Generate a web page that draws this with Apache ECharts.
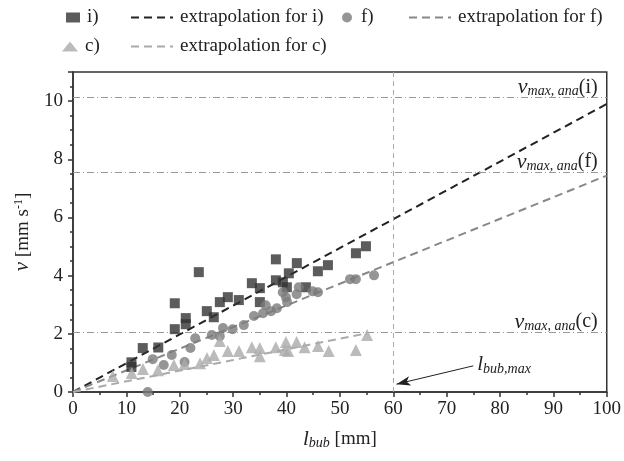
<!DOCTYPE html>
<html>
<head>
<meta charset="utf-8">
<script src="https://cdn.jsdelivr.net/npm/echarts@6/dist/echarts.min.js"></script>
<style>
html, body { margin: 0; padding: 0; background: #fff; }
#chart { width: 624px; height: 461px; }
</style>
</head>
<body>
<div id="chart"></div>
<script>
(function(){

var FONT = '"Liberation Serif", "DejaVu Serif", serif';

// measured points, [l_bub (mm), v (mm/s)]
var seriesI = [
	[10.95, 1.02], [10.95, 0.86], [13.07, 1.51], [15.98, 1.53], [19.07, 2.16],
	[19.07, 3.05], [21.13, 2.54], [21.13, 2.33], [23.57, 4.12], [25.07, 2.78],
	[26.38, 2.57], [27.51, 3.09], [29.01, 3.26], [31.07, 3.16], [33.51, 3.74],
	[35.01, 3.57], [35.01, 3.09], [38.01, 4.56], [38.01, 3.84], [39.32, 3.77],
	[40.07, 3.60], [40.44, 4.08], [41.94, 4.43], [43.63, 3.60], [45.88, 4.15],
	[47.76, 4.36], [53.01, 4.77], [54.88, 5.01]
];
var seriesF = [
	[14.0, 0.0], [14.94, 1.13], [17.0, 0.93], [18.5, 1.27], [20.9, 1.03],
	[22.0, 1.51], [22.9, 1.85], [26.0, 1.96], [27.5, 1.92], [28.1, 2.20],
	[29.9, 2.16], [32.0, 2.30], [33.9, 2.61], [35.6, 2.71], [36.1, 2.98],
	[37.1, 2.78], [38.2, 2.88], [39.3, 3.43], [39.9, 3.26], [40.1, 3.09],
	[41.9, 3.36], [42.3, 3.60], [44.9, 3.46], [45.9, 3.43], [51.9, 3.88],
	[53.0, 3.88], [56.4, 4.01]
];
var seriesC = [
	[7.46, 0.55], [11.0, 0.65], [13.1, 0.79], [15.9, 0.75], [18.9, 0.93],
	[20.9, 0.96], [23.8, 0.99], [25.1, 1.17], [26.4, 1.27], [27.5, 1.75],
	[29.0, 1.41], [31.1, 1.41], [33.5, 1.54], [35.0, 1.51], [35.0, 1.23],
	[38.0, 1.54], [39.7, 1.44], [39.9, 1.72], [40.3, 1.41], [41.9, 1.72],
	[43.4, 1.54], [45.9, 1.58], [47.9, 1.41], [53.0, 1.44], [55.1, 1.96]
];

// extrapolation lines (start / end)
var extraI = [[0, 0], [100, 9.9]];
var extraF = [[0, 0], [100, 7.44]];
var extraC = [[0, 0], [55.1, 2.02]];

// analytical maxima and max bubble length
var vMaxI = 10.13;
var vMaxF = 7.56;
var vMaxC = 2.06;
var lBubMax = 60;
var arrowFrom = [75, 0.9];
var arrowTo = [60.6, 0.27];

var chart = echarts.init(document.getElementById('chart'), null, {renderer: 'canvas'});

function vLabel(tag) {
	return {
		show: true,
		position: 'insideEndTop',
		distance: [9, -1],
		formatter: '{v|v}{s|max, ana}{n|(' + tag + ')}',
		rich: {
			v: {fontFamily: FONT, fontStyle: 'italic', fontSize: 22, color: '#222', lineHeight: 22},
			s: {fontFamily: FONT, fontStyle: 'italic', fontSize: 14, color: '#222', padding: [8, 0, 0, 0], lineHeight: 22},
			n: {fontFamily: FONT, fontSize: 20, color: '#222', lineHeight: 22}
		}
	};
}

var refLine = {color: '#999', width: 1, type: [7, 3, 1, 3]};

function legendAt(left, top, name, w, isLine) {
	var l = {
		left: left, top: top, padding: 0,
		itemWidth: w, itemHeight: 10, itemGap: 0,
		data: [name],
		textStyle: {fontFamily: FONT, fontSize: 19, color: '#222', padding: [0, 0, 0, 2]}
	};
	if (isLine) l.itemStyle = {opacity: 0};
	return l;
}

var option = {
	backgroundColor: '#fff',
	animation: false,
	legend: [
		legendAt(66, 8, 'i)', 14),
		legendAt(130, 8, 'extrapolation for i)', 42, true),
		legendAt(342, 8, 'f)', 14),
		legendAt(408, 8, 'extrapolation for f)', 42, true),
		legendAt(62, 37, 'c)', 16),
		legendAt(130, 37, 'extrapolation for c)', 42, true)
	],
	grid: {left: 73, right: 17, top: 72, bottom: 69, show: true, borderColor: '#333', borderWidth: 1.5},
	xAxis: {
		type: 'value', min: 0, max: 100, interval: 10,
		name: '{i|l}{s|bub} [mm]', nameLocation: 'middle', nameGap: 36,
		nameTextStyle: {
			fontFamily: FONT, fontSize: 19, color: '#222',
			rich: {
				i: {fontFamily: FONT, fontStyle: 'italic', fontSize: 21, color: '#222', lineHeight: 22},
				s: {fontFamily: FONT, fontStyle: 'italic', fontSize: 14, color: '#222', padding: [8, 0, 0, 0], lineHeight: 22}
			}
		},
		axisLine: {onZero: false, lineStyle: {color: '#333', width: 1.5}},
		axisTick: {inside: false, length: 5, lineStyle: {color: '#333', width: 1.5}},
		minorTick: {show: true, splitNumber: 2, length: 3, lineStyle: {color: '#333', width: 1.5}},
		axisLabel: {fontFamily: FONT, fontSize: 19, color: '#222', margin: 8},
		splitLine: {show: false}
	},
	yAxis: {
		type: 'value', min: 0, max: 11, interval: 2,
		name: '{i|v} [mm s{p|-1}]', nameLocation: 'middle', nameGap: 31,
		nameTextStyle: {
			fontFamily: FONT, fontSize: 19, color: '#222',
			rich: {
				i: {fontFamily: FONT, fontStyle: 'italic', fontSize: 21, color: '#222', lineHeight: 22},
				p: {fontFamily: FONT, fontSize: 12, color: '#222', padding: [0, 0, 8, 0], lineHeight: 22}
			}
		},
		axisLine: {onZero: false, lineStyle: {color: '#333', width: 1.5}},
		axisTick: {inside: false, length: 5, lineStyle: {color: '#333', width: 1.5}},
		minorTick: {show: true, splitNumber: 4, length: 3, lineStyle: {color: '#333', width: 1.5}},
		axisLabel: {fontFamily: FONT, fontSize: 19, color: '#222', margin: 10, showMaxLabel: false},
		splitLine: {show: false}
	},
	series: [
		{
			name: 'i)', type: 'scatter', data: seriesI,
			symbol: 'rect', symbolSize: 10,
			itemStyle: {color: '#333'}, z: 5
		},
		{
			name: 'extrapolation for i)', type: 'line', data: extraI,
			symbol: 'none', itemStyle: {color: '#222'},
			lineStyle: {color: '#222', width: 2, type: [8, 5]}, z: 4
		},
		{
			name: 'f)', type: 'scatter', data: seriesF,
			symbol: 'circle', symbolSize: 10,
			itemStyle: {color: '#7a7a7a'}, z: 5
		},
		{
			name: 'extrapolation for f)', type: 'line', data: extraF,
			symbol: 'none', itemStyle: {color: '#888'},
			lineStyle: {color: '#888', width: 2, type: [8, 5]}, z: 4
		},
		{
			name: 'c)', type: 'scatter', data: seriesC,
			symbol: 'triangle', symbolSize: 12,
			itemStyle: {color: '#aaa'}, z: 5
		},
		{
			name: 'extrapolation for c)', type: 'line', data: extraC,
			symbol: 'none', itemStyle: {color: '#aaa'},
			lineStyle: {color: '#aaa', width: 2, type: [8, 5]}, z: 4
		},
		{
			name: 'refs', type: 'line', data: [], z: 3,
			markLine: {
				silent: true, symbol: 'none', animation: false,
				data: [
					{yAxis: vMaxI, lineStyle: refLine, label: vLabel('i')},
					{yAxis: vMaxF, lineStyle: refLine, label: vLabel('f')},
					{yAxis: vMaxC, lineStyle: refLine, label: vLabel('c')},
					{xAxis: lBubMax, lineStyle: {color: '#aaa', width: 1, type: [5, 4]}, label: {show: false}},
					[
						{coord: arrowFrom, symbol: 'none',
							label: {
								show: true, position: 'start', distance: 4,
								formatter: '{i|l}{s|bub,max}',
								rich: {
									i: {fontFamily: FONT, fontStyle: 'italic', fontSize: 21, color: '#222', lineHeight: 22},
									s: {fontFamily: FONT, fontStyle: 'italic', fontSize: 14, color: '#222', padding: [8, 0, 0, 0], lineHeight: 22}
								}
							}
						},
						{coord: arrowTo, symbol: 'arrow', symbolSize: [7, 14]}
					]
				],
				lineStyle: {color: '#222', width: 1, type: 'solid'}
			}
		}
	]
};

chart.setOption(option);

})()
</script>
</body>
</html>
